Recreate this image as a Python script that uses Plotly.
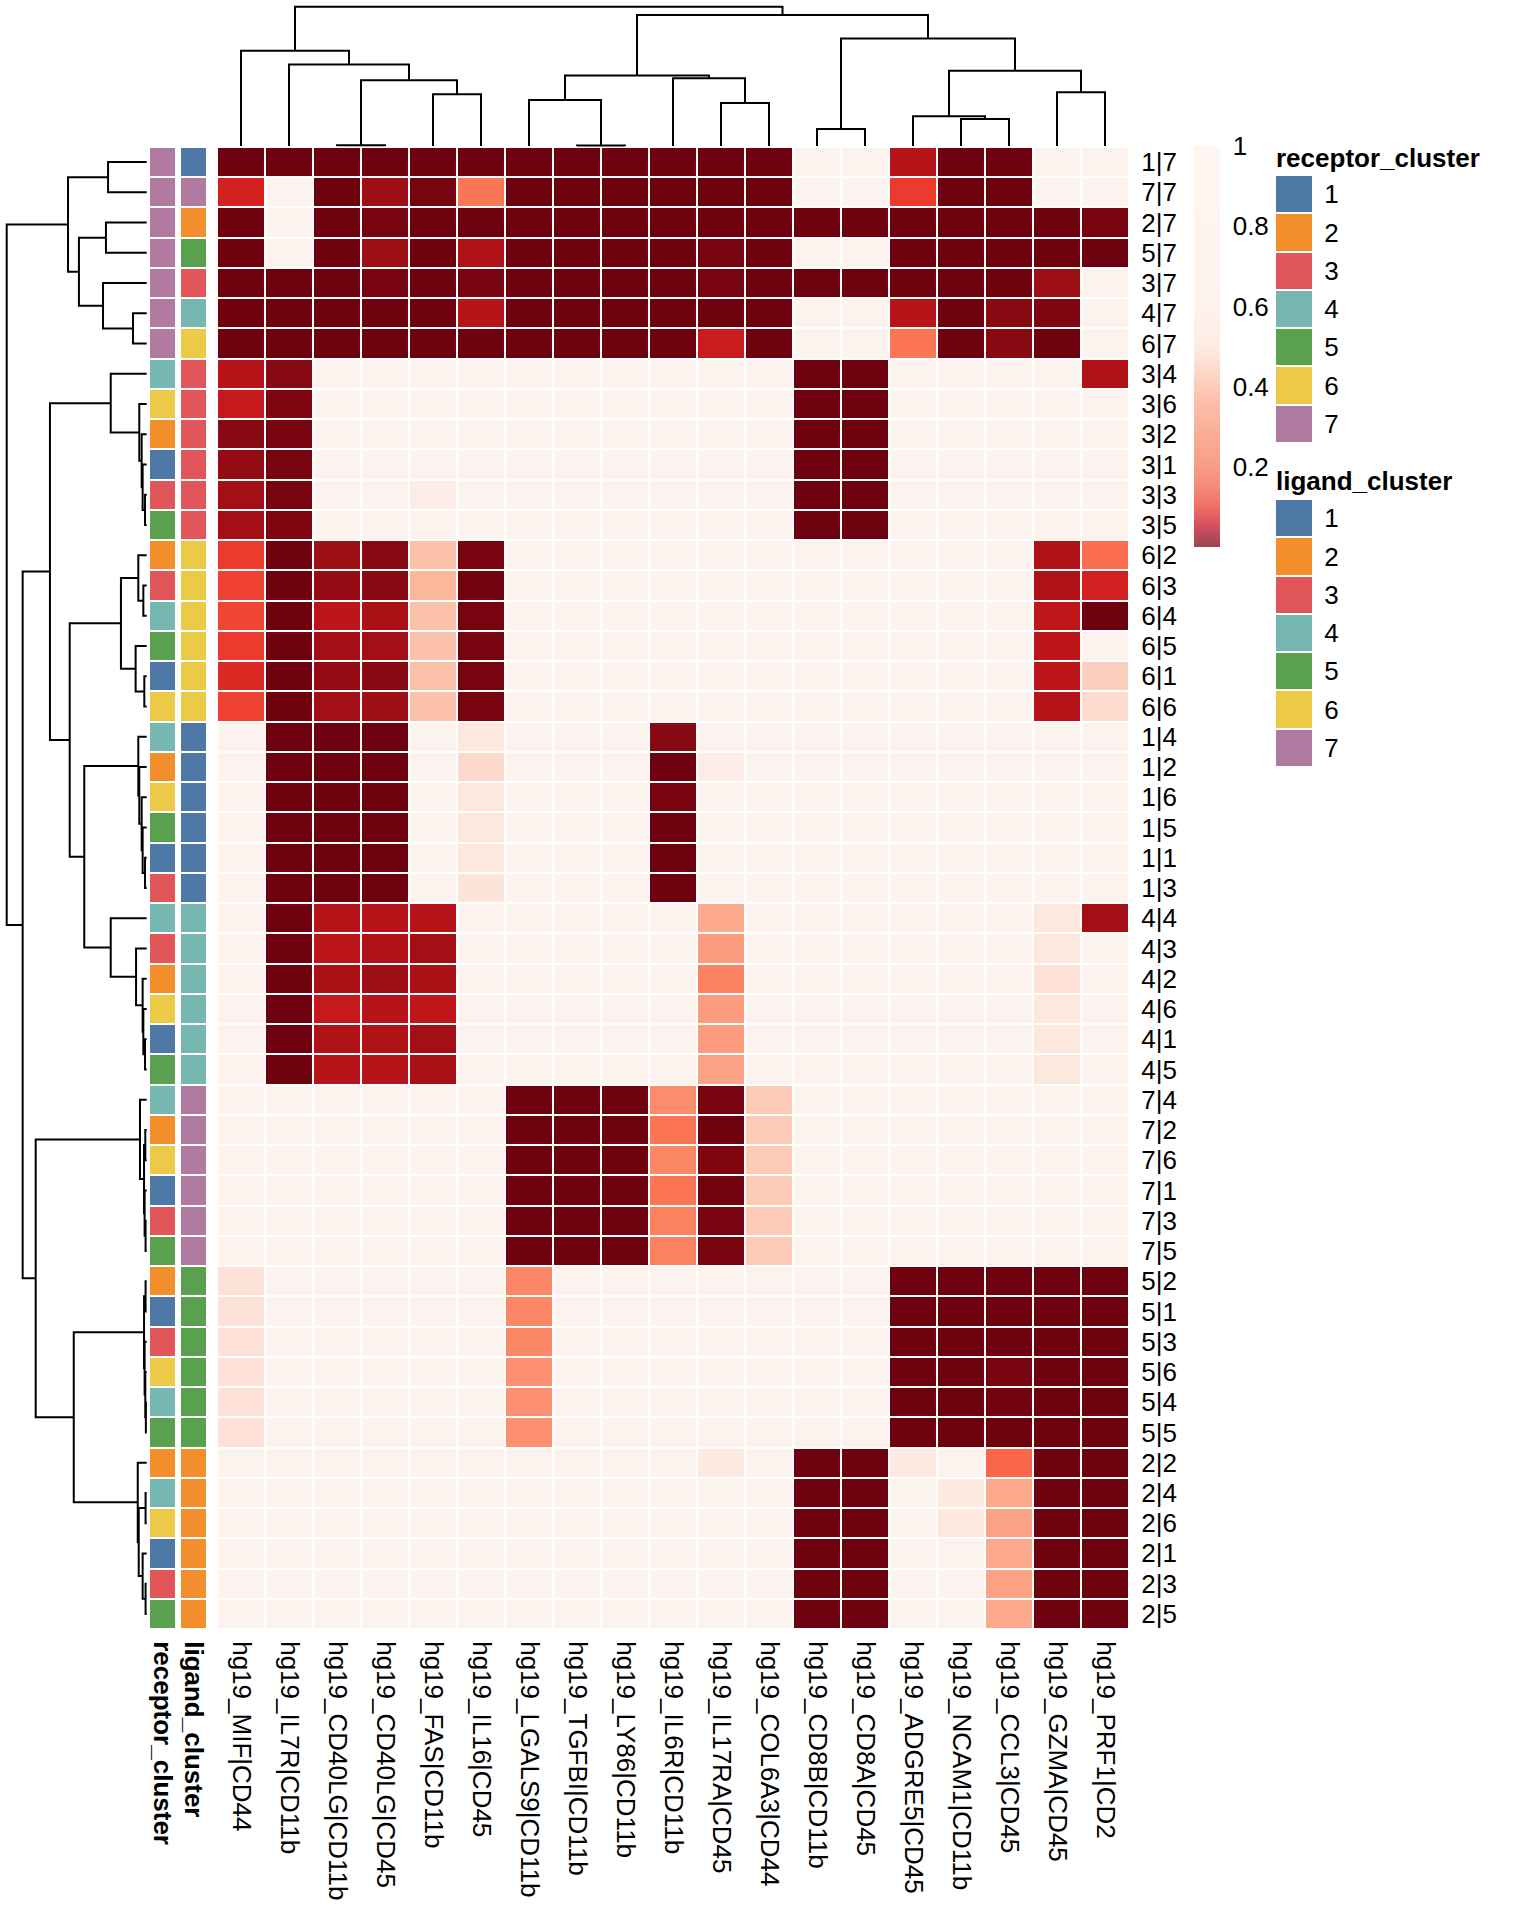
import plotly.graph_objects as go

W, H = 1536, 1920
FONT = "Liberation Sans, Arial, Helvetica, sans-serif"
FS = 26

col_labels = ["hg19_MIF|CD44", "hg19_IL7R|CD11b", "hg19_CD40LG|CD11b", "hg19_CD40LG|CD45",
              "hg19_FAS|CD11b", "hg19_IL16|CD45", "hg19_LGALS9|CD11b", "hg19_TGFBI|CD11b",
              "hg19_LY86|CD11b", "hg19_IL6R|CD11b", "hg19_IL17RA|CD45", "hg19_COL6A3|CD44",
              "hg19_CD8B|CD11b", "hg19_CD8A|CD45", "hg19_ADGRE5|CD45", "hg19_NCAM1|CD11b",
              "hg19_CCL3|CD45", "hg19_GZMA|CD45", "hg19_PRF1|CD2"]

row_labels = ["1|7", "7|7", "2|7", "5|7", "3|7", "4|7", "6|7",
              "3|4", "3|6", "3|2", "3|1", "3|3", "3|5",
              "6|2", "6|3", "6|4", "6|5", "6|1", "6|6",
              "1|4", "1|2", "1|6", "1|5", "1|1", "1|3",
              "4|4", "4|3", "4|2", "4|6", "4|1", "4|5",
              "7|4", "7|2", "7|6", "7|1", "7|3", "7|5",
              "5|2", "5|1", "5|3", "5|6", "5|4", "5|5",
              "2|2", "2|4", "2|6", "2|1", "2|3", "2|5"]

receptor_cluster = [7, 7, 7, 7, 7, 7, 7,
                    4, 6, 2, 1, 3, 5,
                    2, 3, 4, 5, 1, 6,
                    4, 2, 6, 5, 1, 3,
                    4, 3, 2, 6, 1, 5,
                    4, 2, 6, 1, 3, 5,
                    2, 1, 3, 6, 4, 5,
                    2, 4, 6, 1, 3, 5]
ligand_cluster = [1, 7, 2, 5, 3, 4, 6,
                  3, 3, 3, 3, 3, 3,
                  6, 6, 6, 6, 6, 6,
                  1, 1, 1, 1, 1, 1,
                  4, 4, 4, 4, 4, 4,
                  7, 7, 7, 7, 7, 7,
                  5, 5, 5, 5, 5, 5,
                  2, 2, 2, 2, 2, 2]

values = [
    [.005, .005, .005, .005, .005, .005, .005, .005, .005, .005, .005, .005, .9, .9, .06, .005, .005, .9, .9],
    [.09, .9, .005, .04, .015, .2, .005, .005, .005, .005, .005, .005, .9, .9, .12, .005, .005, .9, .9],
    [.005, .9, .005, .015, .005, .005, .005, .005, .005, .005, .005, .005, .005, .005, .005, .005, .005, .005, .015],
    [.005, .9, .005, .04, .005, .055, .005, .005, .005, .005, .015, .005, .9, .9, .005, .005, .005, .005, .005],
    [.005, .005, .005, .015, .005, .015, .005, .005, .005, .005, .015, .005, .005, .005, .005, .005, .005, .04, .9],
    [.008, .005, .005, .005, .005, .06, .005, .005, .005, .005, .005, .005, .9, .9, .06, .005, .025, .02, .9],
    [.005, .005, .005, .005, .005, .005, .005, .005, .005, .005, .08, .005, .9, .9, .2, .005, .025, .005, .9],
    [.06, .025, .9, .9, .9, .9, .9, .9, .9, .9, .9, .9, .005, .005, .9, .9, .9, .9, .055],
    [.075, .02, .9, .9, .75, .9, .9, .9, .9, .9, .9, .9, .005, .005, .9, .9, .9, .9, .9],
    [.025, .015, .9, .9, .9, .9, .9, .9, .9, .9, .9, .9, .005, .005, .9, .9, .9, .9, .9],
    [.035, .015, .9, .9, .9, .9, .9, .9, .9, .9, .9, .9, .005, .005, .9, .9, .9, .9, .9],
    [.045, .015, .9, .9, .6, .9, .9, .9, .9, .9, .9, .9, .005, .005, .9, .9, .9, .9, .9],
    [.045, .02, .9, .9, .9, .9, .9, .9, .9, .9, .9, .9, .005, .005, .9, .9, .9, .9, .9],
    [.12, .005, .04, .025, .38, .015, .9, .9, .9, .9, .9, .9, .9, .9, .9, .9, .9, .055, .19],
    [.13, .005, .035, .025, .36, .01, .9, .9, .9, .9, .9, .9, .9, .9, .9, .9, .9, .055, .09],
    [.135, .005, .065, .05, .38, .015, .9, .9, .9, .9, .9, .9, .9, .9, .9, .9, .9, .07, .005],
    [.12, .005, .045, .045, .38, .015, .9, .9, .9, .9, .9, .9, .9, .9, .9, .9, .9, .065, .9],
    [.1, .005, .035, .025, .38, .015, .9, .9, .9, .9, .9, .9, .9, .9, .9, .9, .9, .065, .42],
    [.13, .005, .045, .04, .38, .015, .9, .9, .9, .9, .9, .9, .9, .9, .9, .9, .9, .06, .46],
    [.9, .005, .005, .005, .9, .55, .9, .9, .9, .025, .9, .9, .9, .9, .9, .9, .9, .9, .9],
    [.9, .005, .005, .005, .9, .45, .9, .9, .9, .005, .6, .9, .9, .9, .9, .9, .9, .9, .9],
    [.9, .005, .005, .005, .9, .55, .9, .9, .9, .015, .9, .9, .9, .9, .9, .9, .9, .9, .9],
    [.9, .005, .005, .005, .9, .55, .9, .9, .9, .005, .9, .9, .9, .9, .9, .9, .9, .9, .9],
    [.9, .005, .005, .005, .9, .55, .9, .9, .9, .005, .9, .9, .9, .9, .9, .9, .9, .9, .9],
    [.9, .005, .005, .005, .9, .52, .9, .9, .9, .005, .9, .9, .9, .9, .9, .9, .9, .9, .9],
    [.9, .005, .06, .06, .06, .9, .9, .9, .9, .9, .32, .9, .9, .9, .9, .9, .9, .55, .045],
    [.9, .005, .065, .055, .045, .9, .9, .9, .9, .9, .28, .9, .9, .9, .9, .9, .9, .55, .9],
    [.9, .005, .05, .04, .05, .9, .9, .9, .9, .9, .22, .9, .9, .9, .9, .9, .9, .5, .9],
    [.9, .005, .075, .06, .07, .9, .9, .9, .9, .9, .28, .9, .9, .9, .9, .9, .9, .55, .9],
    [.9, .005, .055, .055, .045, .9, .9, .9, .9, .9, .28, .9, .9, .9, .9, .9, .9, .55, .9],
    [.9, .005, .06, .06, .048, .9, .9, .9, .9, .9, .3, .9, .9, .9, .9, .9, .9, .55, .9],
    [.9, .9, .9, .9, .9, .9, .005, .005, .005, .24, .015, .4, .9, .9, .9, .9, .9, .9, .9],
    [.9, .9, .9, .9, .9, .9, .005, .005, .005, .2, .005, .4, .9, .9, .9, .9, .9, .9, .9],
    [.9, .9, .9, .9, .9, .9, .005, .005, .005, .23, .02, .4, .9, .9, .9, .9, .9, .9, .9],
    [.9, .9, .9, .9, .9, .9, .005, .005, .005, .2, .01, .4, .9, .9, .9, .9, .9, .9, .9],
    [.9, .9, .9, .9, .9, .9, .005, .005, .005, .22, .015, .4, .9, .9, .9, .9, .9, .9, .9],
    [.9, .9, .9, .9, .9, .9, .005, .005, .005, .22, .015, .4, .9, .9, .9, .9, .9, .9, .9],
    [.5, .9, .9, .9, .9, .9, .23, .9, .9, .9, .9, .9, .9, .9, .005, .005, .005, .005, .005],
    [.5, .9, .9, .9, .9, .9, .23, .9, .9, .9, .9, .9, .9, .9, .005, .005, .005, .005, .005],
    [.5, .9, .9, .9, .9, .9, .23, .9, .9, .9, .9, .9, .9, .9, .005, .005, .005, .005, .005],
    [.5, .9, .9, .9, .9, .9, .25, .9, .9, .9, .9, .9, .9, .9, .005, .005, .015, .005, .005],
    [.5, .9, .9, .9, .9, .9, .25, .9, .9, .9, .9, .9, .9, .9, .005, .005, .01, .005, .005],
    [.5, .9, .9, .9, .9, .9, .25, .9, .9, .9, .9, .9, .9, .9, .005, .005, .005, .005, .005],
    [.9, .9, .9, .9, .9, .9, .9, .9, .9, .9, .58, .9, .005, .005, .58, .9, .18, .005, .005],
    [.9, .9, .9, .9, .9, .9, .9, .9, .9, .9, .9, .9, .005, .005, .9, .58, .32, .005, .005],
    [.9, .9, .9, .9, .9, .9, .9, .9, .9, .9, .9, .9, .005, .005, .9, .55, .3, .005, .005],
    [.9, .9, .9, .9, .9, .9, .9, .9, .9, .9, .9, .9, .005, .005, .9, .9, .32, .005, .005],
    [.9, .9, .9, .9, .9, .9, .9, .9, .9, .9, .9, .9, .005, .005, .9, .9, .3, .005, .005],
    [.9, .9, .9, .9, .9, .9, .9, .9, .9, .9, .9, .9, .005, .005, .9, .9, .32, .005, .005],
]

# dendrograms: [height, left, right]; leaves are row/column indices
col_tree = [1.0,
            [0.683, 0, [0.585, 1, [0.472, [0.005, 2, 3], [0.372, 4, 5]]]],
            [0.940,
             [0.506, [0.331, 6, [0.004, 7, 8]], [0.487, 9, [0.309, 10, 11]]],
             [0.772, [0.122, 12, 13],
              [0.540, [0.213, 14, [0.194, 15, 16]], [0.386, 17, 18]]]]]

row_tree = [1.0,
            [0.562, [0.276, 0, 1], [0.484, [0.291, 2, 3], [0.312, 4, [0.098, 5, 6]]]],
            [0.886,
             [0.691,
              [0.257, 7, [0.053, 8, [0.036, 9, [0.029, 10, [0.012, 11, 12]]]]],
              [0.55,
               [0.184, [0.06, 13, [0.024, 14, 15]], [0.079, 16, [0.017, 17, 18]]],
               [0.446,
                [0.06, 19, [0.053, 20, [0.036, 21, [0.029, 22, [0.012, 23, 24]]]]],
                [0.257, 25, [0.076, 26, [0.029, 27, [0.024, 28, [0.012, 29, 30]]]]]]]],
             [0.793,
              [0.048, 31, [0.019, [0.01, 32, 33], [0.015, 34, [0.008, 35, 36]]]],
              [0.521,
               [0.019, [0.008, 37, 38], [0.015, 39, [0.01, 40, [0.006, 41, 42]]]],
               [0.064, 43, [0.057, [0.008, 44, 45], [0.029, 46, [0.008, 47, 48]]]]]]]]

cluster_levels = [1, 2, 3, 4, 5, 6, 7]
cluster_colors = ["#4e79a7", "#f28e2b", "#e15759", "#76b7b2", "#59a14f", "#edc948", "#b07aa1"]
legend_ticks = [0.2, 0.4, 0.6, 0.8, 1.0]
legend_ticktext = ["0.2", "0.4", "0.6", "0.8", "1"]

cell_scale = [[0.0, "#67000d"], [0.015, "#78040f"], [0.03, "#8e0b13"], [0.05, "#ab1016"],
              [0.07, "#c0171b"], [0.09, "#d42020"], [0.12, "#ec3a2c"], [0.16, "#f9573f"],
              [0.2, "#fc7656"], [0.24, "#fc8c6c"], [0.3, "#fca285"], [0.36, "#fbb79c"],
              [0.4, "#fccab5"], [0.46, "#fddccf"], [0.55, "#fde8de"], [0.62, "#fdeee8"],
              [0.72, "#fdf3ee"], [1.0, "#fdf3ee"]]
bar_scale = [[0.0, "#9c4452"], [0.03, "#bb4a5a"], [0.06, "#d85462"], [0.1, "#ef6e66"],
             [0.15, "#f4897a"], [0.2, "#f89c86"], [0.25, "#f9a790"], [0.3, "#fbb29a"],
             [0.35, "#fcbca5"], [0.4, "#fccbb7"], [0.45, "#fddccf"], [0.5, "#fdece4"],
             [0.6, "#fef2ed"], [1.0, "#fff6f2"]]


def fx(p):
    return p / W


def fy(p):
    return 1 - p / H


def discrete_scale(colors):
    n = len(colors)
    sc = []
    for i, c in enumerate(colors):
        sc.append([i / n, c])
        sc.append([(i + 1) / n, c])
    return sc


def tree_segments(tree):
    pos, hts = [], []

    def rec(n):
        if isinstance(n, int):
            return float(n), 0.0
        h, a, b = n
        pa, ha = rec(a)
        pb, hb = rec(b)
        pos.extend([pa, pa, pb, pb, None])
        hts.extend([ha, h, h, hb, None])
        return (pa + pb) / 2, h

    rec(tree)
    return pos, hts


nrow, ncol = len(row_labels), len(col_labels)
HM_L, HM_R, HM_T, HM_B = 217, 1129, 147, 1629
cat_scale = discrete_scale(cluster_colors)
tickfont = dict(family=FONT, size=FS, color="black")

fig = go.Figure()

fig.add_trace(go.Heatmap(z=values, x=list(range(ncol)), y=list(range(nrow)),
                         colorscale=cell_scale, zmin=0, zmax=1, xgap=2, ygap=2,
                         showscale=False, hoverinfo="skip", xaxis="x", yaxis="y"))

fig.add_trace(go.Heatmap(z=[[r, l] for r, l in zip(receptor_cluster, ligand_cluster)],
                         x=[0, 1], y=list(range(nrow)), colorscale=cat_scale,
                         zmin=0.5, zmax=7.5, xgap=6, ygap=2, showscale=False,
                         hoverinfo="skip", xaxis="x2", yaxis="y2"))

rp, rh = tree_segments(row_tree)
fig.add_trace(go.Scatter(x=rh, y=rp, mode="lines", line=dict(color="black", width=2),
                         hoverinfo="skip", showlegend=False, xaxis="x3", yaxis="y3"))
cp, ch = tree_segments(col_tree)
fig.add_trace(go.Scatter(x=cp, y=ch, mode="lines", line=dict(color="black", width=2),
                         hoverinfo="skip", showlegend=False, xaxis="x4", yaxis="y4"))

fig.add_trace(go.Heatmap(z=[[k] for k in cluster_levels], x=[0], y=list(range(7)),
                         colorscale=cat_scale, zmin=0.5, zmax=7.5, ygap=2, showscale=False,
                         hoverinfo="skip", xaxis="x5", yaxis="y5"))
fig.add_trace(go.Heatmap(z=[[k] for k in cluster_levels], x=[0], y=list(range(7)),
                         colorscale=cat_scale, zmin=0.5, zmax=7.5, ygap=2, showscale=False,
                         hoverinfo="skip", xaxis="x6", yaxis="y6"))

fig.add_trace(go.Scatter(x=[None, None], y=[None, None], mode="markers", showlegend=False,
                         hoverinfo="skip", xaxis="x", yaxis="y",
                         marker=dict(color=[0, 1], colorscale=bar_scale, cmin=0, cmax=1,
                                     showscale=True,
                                     colorbar=dict(thickness=26, thicknessmode="pixels",
                                                   len=401, lenmode="pixels",
                                                   x=fx(1194), xanchor="left",
                                                   y=fy(146), yanchor="top",
                                                   xpad=0, ypad=0, outlinewidth=0,
                                                   tickvals=legend_ticks,
                                                   ticktext=legend_ticktext,
                                                   ticks="outside", ticklen=8,
                                                   tickcolor="rgba(0,0,0,0)",
                                                   tickfont=tickfont))))

hidden = dict(showgrid=False, zeroline=False, showticklabels=False, ticks="", showline=False)
row_dom = [fy(HM_B), fy(HM_T)]

# top dendrogram pixel mapping: height 0 at y=146, height 1 at y=6.7
top_h = lambda p: (146 - p) / (146 - 6.7)
# left dendrogram: height 0 at x=146.7, height 1 at x=6.7
left_h = lambda p: (146.7 - p) / 140.0

fig.update_layout(
    width=W, height=H, margin=dict(l=0, r=0, t=0, b=0),
    paper_bgcolor="white", plot_bgcolor="white", showlegend=False,
    font=dict(family=FONT, size=FS, color="black"),
    xaxis=dict(domain=[fx(HM_L), fx(HM_R)], range=[-0.5, ncol - 0.5], anchor="y",
               tickmode="array", tickvals=list(range(ncol)), ticktext=col_labels,
               tickangle=90, ticks="outside", ticklen=6, tickcolor="rgba(0,0,0,0)",
               tickfont=tickfont, showgrid=False, zeroline=False, showline=False),
    yaxis=dict(domain=row_dom, range=[nrow - 0.5, -0.5], anchor="x", side="right",
               tickmode="array", tickvals=list(range(nrow)), ticktext=row_labels,
               ticks="outside", ticklen=6, tickcolor="rgba(0,0,0,0)",
               tickfont=tickfont, showgrid=False, zeroline=False, showline=False),
    xaxis2=dict(domain=[fx(147), fx(209)], range=[-0.5, 1.5], anchor="y2",
                tickmode="array", tickvals=[0, 1],
                ticktext=["<b>receptor_cluster</b>", "<b>ligand_cluster</b>"],
                tickangle=90, ticks="outside", ticklen=6, tickcolor="rgba(0,0,0,0)",
                tickfont=tickfont, showgrid=False, zeroline=False, showline=False),
    yaxis2=dict(domain=row_dom, range=[nrow - 0.5, -0.5], anchor="x2", **hidden),
    xaxis3=dict(domain=[0, fx(148)], range=[left_h(0), left_h(148)], anchor="y3", **hidden),
    yaxis3=dict(domain=row_dom, range=[nrow - 0.5, -0.5], anchor="x3", **hidden),
    xaxis4=dict(domain=[fx(HM_L), fx(HM_R)], range=[-0.5, ncol - 0.5], anchor="y4", **hidden),
    yaxis4=dict(domain=[fy(147), fy(0)], range=[top_h(147), top_h(0)], anchor="x4", **hidden),
    xaxis5=dict(domain=[fx(1276), fx(1312)], range=[-0.5, 0.5], anchor="y5", **hidden),
    yaxis5=dict(domain=[fy(443), fy(175)], range=[6.5, -0.5], anchor="x5", side="right",
                tickmode="array", tickvals=list(range(7)),
                ticktext=[str(k) for k in cluster_levels],
                ticks="outside", ticklen=6, tickcolor="rgba(0,0,0,0)", tickfont=tickfont,
                showgrid=False, zeroline=False, showline=False),
    xaxis6=dict(domain=[fx(1276), fx(1312)], range=[-0.5, 0.5], anchor="y6", **hidden),
    yaxis6=dict(domain=[fy(767), fy(499)], range=[6.5, -0.5], anchor="x6", side="right",
                tickmode="array", tickvals=list(range(7)),
                ticktext=[str(k) for k in cluster_levels],
                ticks="outside", ticklen=6, tickcolor="rgba(0,0,0,0)", tickfont=tickfont,
                showgrid=False, zeroline=False, showline=False),
    annotations=[
        dict(text="<b>receptor_cluster</b>", x=fx(1274), y=fy(158), xref="paper", yref="paper",
             xanchor="left", yanchor="middle", showarrow=False,
             font=dict(family=FONT, size=FS, color="black")),
        dict(text="<b>ligand_cluster</b>", x=fx(1274), y=fy(481), xref="paper", yref="paper",
             xanchor="left", yanchor="middle", showarrow=False,
             font=dict(family=FONT, size=FS, color="black")),
    ],
)

fig.write_html("out.html", config={"displayModeBar": False},
               post_script="document.body.style.margin='0';document.body.style.overflow='hidden';")
